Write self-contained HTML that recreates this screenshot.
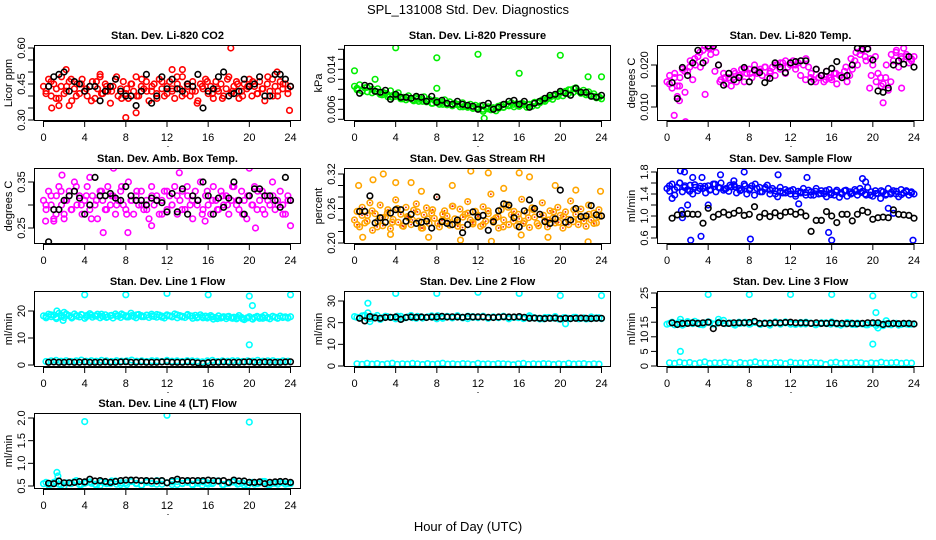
<!DOCTYPE html>
<html><head><meta charset="utf-8"><style>
html,body{margin:0;padding:0;background:#fff;}
svg{display:block;font-family:"Liberation Sans",Arial,sans-serif;}
</style></head><body>
<svg id="chart" width="936" height="540" viewBox="0 0 936 540">
<text x="468" y="14" text-anchor="middle" font-size="13">SPL_131008  Std. Dev. Diagnostics</text>
<text x="468" y="531" text-anchor="middle" font-size="13">Hour of Day (UTC)</text>
</svg>
<script>
const xTicks=[0,4,8,12,16,20,24];
const xTickLabels=['0','4','8','12','16','20','24'];
const hours48=[0.5,1,1.5,2,2.5,3,3.5,4,4.5,5,5.5,6,6.5,7,7.5,8,8.5,9,9.5,10,10.5,11,11.5,12,12.5,13,13.5,14,14.5,15,15.5,16,16.5,17,17.5,18,18.5,19,19.5,20,20.5,21,21.5,22,22.5,23,23.5,24];

// CO2
const co2Main=[0.44,0.42,0.47,0.40,0.45,0.43,0.39,0.48,0.41,0.44,0.46,0.38,0.43,0.45,0.41,0.47,0.42,0.40,0.44,0.46,0.39,0.43,0.48,0.41,0.45,0.42,0.37,0.44,0.47,0.40,0.43,0.46,0.41,0.39,0.45,0.42,0.48,0.40,0.44,0.43,0.46,0.38,0.42,0.45,0.41,0.47,0.43,0.40,0.44,0.46,0.42,0.39,0.45,0.43,0.48,0.41,0.44,0.40,0.46,0.42,0.38,0.45,0.43,0.47,0.41,0.44,0.39,0.46,0.42,0.45,0.40,0.43,0.48,0.41,0.44,0.46,0.39,0.42,0.45,0.43,0.47,0.40,0.44,0.41,0.46,0.43,0.38,0.45,0.42,0.47,0.44,0.40,0.46,0.43,0.45,0.41,0.44];
const co2B=[0.41,0.46,0.39,0.44,0.42,0.47,0.40,0.45,0.43,0.38,0.46,0.41,0.44,0.42,0.48,0.39,0.43,0.45,0.40,0.47,0.42,0.44,0.39,0.46,0.41,0.43,0.48,0.40,0.45,0.42,0.37,0.44,0.46,0.41,0.43,0.39,0.47,0.42,0.45,0.40,0.44,0.46,0.41,0.43,0.48,0.40,0.42,0.45,0.43];
const co2Black=[0.44,0.48,0.49,0.50,0.42,0.46,0.45,0.42,0.44,0.44,0.38,0.42,0.44,0.47,0.42,0.40,0.40,0.36,0.42,0.49,0.37,0.40,0.48,0.43,0.47,0.43,0.42,0.45,0.44,0.49,0.35,0.42,0.43,0.48,0.50,0.40,0.41,0.42,0.47,0.44,0.45,0.48,0.40,0.40,0.49,0.49,0.47,0.44];
const co2OutX=[0.8,1.5,2.5,8,18.2,23.9,9,5.5,12.5,2.2,13.5,22.7];
const co2OutY=[0.35,0.36,0.36,0.31,0.60,0.34,0.33,0.49,0.51,0.51,0.51,0.50];
const co2Ticks=[0.30,0.35,0.40,0.45,0.50,0.55,0.60];
const co2TickLabels=['0.30','','','0.45','','','0.60'];

// Pressure
const presMain=[0.0106,0.0099,0.0109,0.0096,0.0103,0.0095,0.0106,0.0100,0.0096,0.0101,0.0090,0.0094,0.0092,0.0085,0.0097,0.0088,0.0086,0.0093,0.0081,0.0084,0.0079,0.0087,0.0082,0.0077,0.0083,0.0076,0.0080,0.0085,0.0075,0.0080,0.0072,0.0078,0.0077,0.0070,0.0074,0.0079,0.0069,0.0075,0.0067,0.0072,0.0070,0.0065,0.0073,0.0067,0.0064,0.0070,0.0062,0.0068,0.0061,0.0067,0.0056,0.0064,0.0065,0.0059,0.0063,0.0057,0.0062,0.0068,0.0064,0.0070,0.0067,0.0073,0.0065,0.0071,0.0066,0.0072,0.0069,0.0064,0.0070,0.0066,0.0074,0.0068,0.0073,0.0079,0.0076,0.0081,0.0084,0.0080,0.0089,0.0086,0.0093,0.0087,0.0096,0.0091,0.0099,0.0094,0.0103,0.0097,0.0092,0.0098,0.0089,0.0095,0.0087,0.0091,0.0083,0.0085,0.0081];
const presB=[0.0102,0.0097,0.0104,0.0093,0.0095,0.0089,0.0090,0.0084,0.0087,0.0081,0.0083,0.0079,0.0080,0.0076,0.0078,0.0072,0.0074,0.0070,0.0071,0.0068,0.0069,0.0065,0.0066,0.0062,0.0064,0.0060,0.0061,0.0063,0.0066,0.0064,0.0068,0.0070,0.0067,0.0071,0.0069,0.0072,0.0075,0.0078,0.0083,0.0087,0.0090,0.0094,0.0099,0.0101,0.0096,0.0093,0.0089,0.0086,0.0084];
const presBlack=[0.0092,0.0108,0.0106,0.0096,0.0094,0.0098,0.0080,0.0090,0.0084,0.0084,0.0082,0.0086,0.0084,0.0076,0.0086,0.0074,0.0078,0.0072,0.0070,0.0076,0.0070,0.0068,0.0066,0.0060,0.0068,0.0072,0.0060,0.0064,0.0070,0.0076,0.0078,0.0070,0.0076,0.0064,0.0072,0.0076,0.0082,0.0088,0.0090,0.0096,0.0092,0.0088,0.0102,0.0094,0.0094,0.0086,0.0084,0.0088];
const presOutX=[0,4,8,8,12,16,20,22.7,24,12.6,2];
const presOutY=[0.0137,0.0183,0.0163,0.0102,0.0170,0.0132,0.0168,0.0125,0.0125,0.0042,0.0120];
const presTicks=[0.004,0.006,0.008,0.010,0.012,0.014,0.016,0.018];
const presTickLabels=['','0.006','','','','0.014','',''];

// Li-820 Temp
const tempMain=[0.0160,0.0175,0.0145,0.0180,0.0150,0.0170,0.0190,0.0135,0.0185,0.0210,0.0165,0.0200,0.0220,0.0195,0.0235,0.0210,0.0240,0.0225,0.0250,0.0230,0.0200,0.0165,0.0180,0.0155,0.0170,0.0150,0.0185,0.0160,0.0175,0.0190,0.0160,0.0180,0.0190,0.0170,0.0200,0.0180,0.0185,0.0175,0.0195,0.0170,0.0180,0.0195,0.0175,0.0200,0.0190,0.0205,0.0180,0.0195,0.0200,0.0210,0.0190,0.0205,0.0210,0.0200,0.0215,0.0195,0.0180,0.0165,0.0190,0.0170,0.0175,0.0160,0.0185,0.0170,0.0165,0.0180,0.0155,0.0175,0.0170,0.0185,0.0160,0.0175,0.0190,0.0210,0.0200,0.0225,0.0235,0.0220,0.0240,0.0215,0.0200,0.0220,0.0180,0.0170,0.0155,0.0170,0.0140,0.0160,0.0210,0.0230,0.0195,0.0220,0.0240,0.0220,0.0205,0.0215,0.0220];
const tempB=[0.0155,0.0170,0.0150,0.0185,0.0195,0.0215,0.0230,0.0245,0.0240,0.0185,0.0160,0.0170,0.0165,0.0180,0.0175,0.0190,0.0180,0.0185,0.0190,0.0195,0.0185,0.0200,0.0205,0.0210,0.0205,0.0200,0.0175,0.0165,0.0170,0.0160,0.0175,0.0165,0.0170,0.0180,0.0175,0.0195,0.0215,0.0230,0.0235,0.0210,0.0175,0.0160,0.0150,0.0200,0.0225,0.0235,0.0215,0.0225,0.0210];
const tempBlack=[0.0158,0.0120,0.0194,0.0175,0.0205,0.0235,0.0205,0.0245,0.0245,0.0200,0.0152,0.0180,0.0165,0.0170,0.0194,0.0160,0.0188,0.0182,0.0158,0.0168,0.0205,0.0195,0.0182,0.0205,0.0208,0.0210,0.0210,0.0160,0.0190,0.0175,0.0185,0.0192,0.0208,0.0170,0.0175,0.0200,0.0240,0.0238,0.0238,0.0212,0.0138,0.0135,0.0145,0.0200,0.0210,0.0202,0.0220,0.0195];
const tempOutX=[0.7,1.8,1.2,3.7,21,19.7,22.8,1];
const tempOutY=[0.0080,0.0065,0.0115,0.0130,0.0110,0.0145,0.0145,0.0125];
const tempTicks=[0.010,0.015,0.020];
const tempTickLabels=['0.010','','0.020'];

// Amb box temp
const ambMain=[0.31,0.29,0.33,0.30,0.27,0.32,0.34,0.30,0.28,0.31,0.33,0.29,0.35,0.30,0.32,0.28,0.31,0.34,0.29,0.32,0.30,0.27,0.33,0.31,0.29,0.34,0.30,0.32,0.28,0.31,0.33,0.30,0.29,0.35,0.31,0.28,0.32,0.30,0.33,0.29,0.31,0.27,0.34,0.30,0.32,0.28,0.31,0.33,0.29,0.32,0.30,0.34,0.28,0.31,0.33,0.29,0.32,0.30,0.27,0.33,0.31,0.35,0.29,0.32,0.30,0.28,0.34,0.31,0.29,0.33,0.30,0.32,0.28,0.31,0.34,0.30,0.29,0.33,0.31,0.27,0.32,0.30,0.34,0.29,0.31,0.33,0.28,0.32,0.30,0.35,0.29,0.31,0.33,0.30,0.28,0.32,0.31];
const ambB=[0.30,0.32,0.28,0.33,0.31,0.29,0.34,0.30,0.32,0.27,0.31,0.33,0.29,0.32,0.30,0.34,0.28,0.31,0.33,0.30,0.29,0.32,0.31,0.28,0.33,0.30,0.32,0.29,0.34,0.31,0.30,0.28,0.33,0.31,0.29,0.32,0.30,0.34,0.31,0.28,0.32,0.30,0.33,0.29,0.31,0.32,0.30,0.28,0.31];
const ambBlack=[0.22,0.29,0.29,0.31,0.32,0.33,0.315,0.28,0.30,0.36,0.32,0.32,0.325,0.315,0.31,0.34,0.32,0.31,0.31,0.30,0.315,0.31,0.305,0.285,0.325,0.285,0.335,0.28,0.32,0.31,0.35,0.32,0.28,0.315,0.295,0.315,0.35,0.31,0.28,0.32,0.335,0.335,0.32,0.32,0.31,0.295,0.36,0.31];
const ambOutX=[0.2,1,2,5.8,8.2,10.5,15.7,20.6,24,6.8,20,4.5,1.8,13.2];
const ambOutY=[0.265,0.265,0.27,0.24,0.24,0.255,0.265,0.25,0.255,0.38,0.38,0.36,0.365,0.37];
const ambTicks=[0.25,0.30,0.35];
const ambTickLabels=['0.25','','0.35'];

// Gas stream RH
const rhMain=[0.240,0.255,0.228,0.262,0.235,0.248,0.270,0.222,0.251,0.238,0.266,0.230,0.245,0.258,0.225,0.241,0.275,0.236,0.250,0.229,0.262,0.244,0.232,0.257,0.268,0.238,0.226,0.249,0.261,0.234,0.252,0.243,0.280,0.228,0.239,0.256,0.247,0.231,0.264,0.242,0.236,0.259,0.227,0.250,0.272,0.240,0.233,0.255,0.246,0.229,0.263,0.238,0.251,0.285,0.236,0.244,0.226,0.258,0.240,0.267,0.232,0.249,0.255,0.230,0.242,0.276,0.238,0.253,0.227,0.261,0.245,0.234,0.250,0.270,0.239,0.228,0.256,0.243,0.235,0.262,0.248,0.226,0.254,0.241,0.273,0.237,0.250,0.232,0.259,0.244,0.229,0.266,0.240,0.252,0.235,0.258,0.247];
const rhB=[0.232,0.248,0.238,0.256,0.228,0.244,0.252,0.236,0.260,0.230,0.246,0.240,0.254,0.226,0.242,0.258,0.234,0.250,0.238,0.264,0.229,0.245,0.252,0.236,0.248,0.232,0.256,0.240,0.246,0.228,0.262,0.238,0.250,0.234,0.244,0.258,0.230,0.248,0.240,0.254,0.236,0.246,0.232,0.258,0.242,0.238,0.250,0.234,0.246];
const rhBlack=[0.255,0.255,0.282,0.235,0.244,0.236,0.252,0.258,0.258,0.238,0.250,0.234,0.236,0.238,0.226,0.280,0.237,0.234,0.232,0.240,0.218,0.232,0.254,0.245,0.248,0.222,0.237,0.256,0.268,0.266,0.244,0.228,0.256,0.275,0.260,0.250,0.237,0.234,0.242,0.292,0.236,0.240,0.260,0.246,0.247,0.265,0.249,0.247];
const rhOutX=[0.4,1.8,2.8,4,5.5,11.3,13,16,17,0.8,3.5,7.2,10.3,13.3,18.8,22.7,16.2,9.5,23.9,6.5,14.5,19.5,21.5];
const rhOutY=[0.300,0.310,0.320,0.305,0.305,0.325,0.322,0.322,0.315,0.210,0.215,0.210,0.205,0.203,0.210,0.202,0.214,0.300,0.290,0.290,0.295,0.300,0.292];
const rhTicks=[0.20,0.22,0.24,0.26,0.28,0.30,0.32];
const rhTickLabels=['0.20','','','0.26','','','0.32'];

// Sample flow
const sfMain=[1.50,1.45,1.58,1.38,1.52,1.60,1.44,1.55,1.48,1.56,1.40,1.52,1.46,1.54,1.50,1.42,1.55,1.48,1.58,1.44,1.52,1.60,1.47,1.50,1.45,1.53,1.57,1.42,1.50,1.48,1.58,1.40,1.47,1.55,1.38,1.50,1.52,1.44,1.49,1.56,1.40,1.50,1.46,1.35,1.52,1.42,1.48,1.45,1.40,1.48,1.36,1.45,1.42,1.50,1.38,1.47,1.44,1.38,1.50,1.40,1.46,1.40,1.35,1.48,1.42,1.38,1.47,1.34,1.40,1.46,1.36,1.44,1.42,1.48,1.38,1.50,1.45,1.40,1.52,1.38,1.36,1.46,1.41,1.32,1.44,1.38,1.50,1.40,1.46,1.40,1.35,1.48,1.42,1.46,1.38,1.44,1.40];
const sfB=[1.55,1.48,1.60,1.52,1.45,1.57,1.50,1.54,1.47,1.58,1.51,1.49,1.56,1.53,1.46,1.55,1.50,1.58,1.44,1.52,1.47,1.40,1.45,1.42,1.46,1.40,1.44,1.43,1.38,1.45,1.41,1.46,1.39,1.44,1.42,1.47,1.40,1.45,1.43,1.38,1.44,1.41,1.46,1.40,1.43,1.45,1.39,1.44,1.42];
const sfBlack=[0.96,1.02,1.03,1.04,1.03,1.03,0.87,1.14,0.98,1.03,1.07,1.02,1.05,1.10,1.01,1.03,1.17,0.98,1.05,0.99,1.06,1.00,1.07,1.08,1.03,1.07,1.00,0.72,0.92,0.92,1.08,1.00,0.88,1.03,1.03,0.91,1.03,1.10,1.07,0.94,0.97,0.98,0.97,1.11,1.03,1.02,1.01,0.96];
const sfOutX=[2.3,3.3,8.1,15.7,16,23.9,1.5,1.4,2.0,1.3,1.7,5.2,7.5,10.8,13.6,19,2.5,3.4,21.5,22,12.8,4.0,0.5,6.5,19.3];
const sfOutY=[0.56,0.63,0.58,0.70,0.56,0.56,0.97,1.10,1.20,1.82,1.80,1.75,1.80,1.75,1.70,1.68,1.70,1.70,1.14,1.05,1.22,1.20,1.32,1.64,1.62];
const sfTicks=[0.6,0.8,1.0,1.2,1.4,1.6,1.8];
const sfTickLabels=['0.6','','1.0','','1.4','','1.8'];

// Line 1 flow
const l1High=[18.2,17.5,18.8,17.9,18.5,17.2,19.1,18.0,17.6,18.7,18.3,17.4,18.9,18.1,17.8,18.6,17.3,18.4,19.0,17.7,18.2,18.8,17.5,18.0,18.6,17.9,18.3,17.4,18.9,18.1,17.6,18.5,18.2,17.8,19.2,18.0,17.5,18.7,18.3,17.9,18.4,17.6,18.8,18.0,17.7,18.5,18.1,17.4,18.6,18.2,17.8,18.9,17.5,18.3,18.0,17.6,18.7,18.2,17.3,18.4,17.9,18.6,17.5,18.1,17.8,18.3,17.0,17.6,18.2,17.4,17.9,17.2,18.0,17.5,17.7,17.1,18.3,17.6,16.8,17.4,17.9,17.2,17.6,18.0,17.3,17.8,18.4,17.5,17.1,18.0,17.7,17.3,18.1,17.6,17.8,17.4,17.9];
const l1B=[18.0,18.6,17.7,18.4,18.9,17.8,18.3,18.7,17.9,18.5,18.1,18.8,17.6,18.4,18.2,18.9,17.8,18.3,18.6,17.9,18.5,18.1,18.7,17.7,18.3,18.0,18.6,17.8,18.4,18.1,17.5,18.0,17.4,17.8,17.2,17.7,17.9,17.3,17.6,17.1,17.5,17.0,17.8,17.3,17.6,18.0,17.4,17.7,17.5];
const l1Low=[1.3,1.5,1.7,1.4,1.6,1.3,1.5,1.8,1.4,1.6,1.4,1.7,1.5,1.3,1.6,1.4,1.5,1.8,1.4,1.5,1.3,1.6,1.5,1.3,1.7,1.4,1.5,1.3,1.6,1.5,1.4,1.2,1.5,1.7,1.3,1.5,1.4,1.6,1.5,1.3,1.5,1.4,1.7,1.4,1.5,1.6,1.3,1.5,1.4];
const l1Black=[1.0,1.1,1.0,1.0,1.1,1.0,1.0,1.1,1.0,1.0,1.0,1.1,1.0,1.0,1.1,1.2,1.0,1.0,1.1,1.0,1.0,1.0,1.1,1.2,1.0,1.0,1.0,1.1,1.0,0.8,0.6,0.9,1.0,1.0,1.1,1.0,1.0,1.0,1.1,1.2,1.0,1.0,1.1,1.0,1.0,1.0,1.1,1.2];
const l1OutX=[4,8,12,16,20,24,20.3,20,1.3,2,1.9];
const l1OutY=[26,26,26.5,26,25.5,26,22,7.5,20,19.5,16.5];
const l1Ticks=[0,10,20];
const l1TickLabels=['0','10','20'];

// Line 2 flow
const l2High=[22.8,22.2,23.4,21.9,22.6,21.5,23.0,22.4,21.8,22.9,22.3,23.3,22.0,22.7,22.5,23.1,21.8,22.6,22.9,22.2,23.2,22.5,21.9,22.8,22.4,23.0,22.1,22.7,22.3,22.9,21.8,22.5,22.6,22.0,23.2,22.3,21.7,22.4,22.1,22.8,21.6,22.3,21.9,22.5,22.0,21.7,22.6,22.2,21.9];
const l2B=[22.5,23.1,22.0,22.7,23.3,22.2,22.8,22.4,23.0,21.9,22.6,22.3,22.9,22.1,22.7,22.5,23.2,22.0,22.8,22.4,22.6,22.2,23.0,22.5,22.3,22.8,22.0,22.6,22.4,22.9,22.1,22.5,22.3,21.9,22.6,22.2,22.0,21.8,22.4,22.1,21.7,22.3,22.0,22.5,21.8,22.2,21.9,22.1,22.3];
const l2Low=[1.0,0.8,1.2,0.9,1.1,0.7,1.0,1.3,0.8,1.0,0.9,1.2,1.0,0.7,1.1,0.8,1.0,1.3,0.9,1.0,0.8,1.1,1.0,0.7,1.2,0.9,1.0,0.8,1.1,1.0,0.9,0.6,1.0,1.2,0.8,1.0,0.9,1.1,1.0,0.7,1.0,0.8,1.2,0.9,1.0,1.1,0.8,1.0,0.9];
const l2Black=[22.0,20.8,22.8,22.2,22.0,22.4,22.5,22.6,21.5,22.4,22.6,22.5,22.6,22.4,22.6,22.6,22.9,22.6,22.7,22.6,22.5,22.8,22.6,22.7,22.6,22.5,22.4,22.6,22.7,22.6,22.6,22.8,22.5,22.0,22.1,22.0,21.9,22.0,22.1,21.8,22.0,21.9,22.0,22.1,22.0,21.9,22.0,22.0];
const l2OutX=[4,8,12,16,20,24,1.3,1.3,20.5,1.5];
const l2OutY=[33.5,33.5,34,33.5,32.5,32.5,29,24.5,19.5,20.5];
const l2Ticks=[0,10,20,30];
const l2TickLabels=['0','10','20','30'];

// Line 3 flow
const l3High=[14.3,15.0,14.6,14.0,15.2,14.5,14.8,14.1,15.1,14.4,14.9,15.6,14.6,14.2,15.0,14.7,14.3,15.2,14.5,14.8,14.0,14.9,14.6,15.1,14.3,14.7,14.4,15.0,14.6,14.2,14.8,14.5,15.1,14.3,14.6,14.9,14.2,14.7,14.4,14.1,14.8,14.5,13.8,14.3,14.6,14.0,14.5,14.2,14.4];
const l3B=[14.6,14.1,15.0,14.4,14.8,15.3,14.2,14.7,14.9,14.3,15.1,14.5,14.8,14.0,14.6,15.0,14.4,14.9,14.2,14.7,14.5,15.1,14.3,14.8,14.6,14.2,14.9,14.4,14.7,14.1,14.5,14.8,14.3,14.6,14.0,14.4,14.7,14.2,14.5,14.1,14.6,13.9,14.3,14.5,14.1,14.6,14.2,14.4,14.3];
const l3Low=[1.1,0.9,1.3,1.0,1.2,0.8,1.1,1.4,0.9,1.1,1.0,1.3,1.1,0.8,1.2,0.9,1.1,1.4,1.0,1.1,0.9,1.2,1.1,0.8,1.3,1.0,1.1,0.9,1.2,1.1,1.0,0.5,1.1,1.3,0.9,1.1,1.0,1.2,1.1,0.8,1.1,0.9,1.3,1.0,1.1,1.2,0.9,1.1,1.0];
const l3Black=[14.8,14.2,14.6,14.6,14.8,14.6,14.8,15.0,12.8,14.8,14.6,14.6,14.8,14.8,14.8,14.9,15.3,14.6,14.6,14.7,14.8,14.8,14.9,15.0,14.8,14.8,14.8,14.6,14.8,14.6,14.6,14.8,14.6,14.6,14.5,14.6,14.5,14.6,14.8,14.8,14.8,14.2,14.5,14.6,14.5,14.6,14.6,14.4];
const l3OutX=[4,8,12,16,20,24,20.3,20,1.3,1.3,5,20.5,21.3];
const l3OutY=[24.5,24.5,24.5,24.5,24,24.3,18.3,7.5,5,16,16,13,15.5];
const l3Ticks=[0,5,10,15,20,25];
const l3TickLabels=['0','5','10','15','','25'];

// Line 4 flow
const l4High=[0.55,0.52,0.58,0.54,0.50,0.57,0.60,0.53,0.56,0.59,0.54,0.51,0.58,0.55,0.61,0.53,0.57,0.60,0.55,0.52,0.59,0.56,0.54,0.61,0.57,0.53,0.60,0.55,0.58,0.52,0.56,0.59,0.54,0.57,0.61,0.53,0.56,0.59,0.55,0.52,0.58,0.54,0.57,0.60,0.53,0.56,0.58,0.54,0.55];
const l4B=[0.58,0.54,0.60,0.52,0.57,0.55,0.62,0.53,0.58,0.56,0.51,0.59,0.55,0.61,0.54,0.57,0.53,0.60,0.56,0.52,0.58,0.55,0.62,0.54,0.57,0.59,0.53,0.56,0.60,0.54,0.58,0.52,0.57,0.55,0.61,0.53,0.56,0.59,0.54,0.57,0.52,0.58,0.55,0.60,0.53,0.56,0.54,0.57,0.55];
const l4Black=[0.56,0.55,0.61,0.57,0.57,0.58,0.60,0.59,0.65,0.61,0.62,0.60,0.58,0.60,0.62,0.63,0.63,0.63,0.62,0.62,0.61,0.61,0.62,0.57,0.62,0.65,0.62,0.62,0.62,0.62,0.62,0.63,0.62,0.61,0.62,0.58,0.63,0.61,0.61,0.58,0.58,0.59,0.55,0.58,0.59,0.60,0.60,0.58];
const l4OutX=[4,12,20,1.3,1.4];
const l4OutY=[1.92,2.06,1.91,0.80,0.72];
const l4Ticks=[0.5,1.0,1.5,2.0];
const l4TickLabels=['0.5','1.0','1.5','2.0'];

const NS='http://www.w3.org/2000/svg';
const svg=document.getElementById('chart');
function mk(tag,attrs,parent){const e=document.createElementNS(NS,tag);for(const k in attrs)e.setAttribute(k,attrs[k]);(parent||svg).appendChild(e);return e;}

const cols=[{bx0:34,bx1:301,p0:43.5,p24:290.5},{bx0:344,bx1:611,p0:354.5,p24:601.5},{bx0:657,bx1:924,p0:667,p24:914}];
const rows=[{t:45,b:121},{t:168,b:244},{t:291,b:367},{t:413,b:489}];

const panels=[
 {id:'co2',title:'Stan. Dev. Li-820 CO2',ylab:'Licor ppm',c:0,r:0,v1:0.30,y1:120,v2:0.60,y2:48,col:'#ff0000',main:[co2Main,co2B],black:co2Black,ox:co2OutX,oy:co2OutY,ticks:co2Ticks,tl:co2TickLabels},
 {id:'pressure',title:'Stan. Dev. Li-820 Pressure',ylab:'kPa',c:1,r:0,v1:0.006,y1:109.3,v2:0.014,y2:69.3,col:'#00ee00',main:[presMain,presB],black:presBlack,ox:presOutX,oy:presOutY,ticks:presTicks,tl:presTickLabels},
 {id:'li820-temp',title:'Stan. Dev. Li-820 Temp.',ylab:'degrees C',c:2,r:0,v1:0.010,y1:107,v2:0.020,y2:65,col:'#ff00ff',main:[tempMain,tempB],black:tempBlack,ox:tempOutX,oy:tempOutY,ticks:tempTicks,tl:tempTickLabels},
 {id:'amb-box-temp',title:'Stan. Dev. Amb. Box Temp.',ylab:'degrees C',c:0,r:1,v1:0.25,y1:228,v2:0.35,y2:182,col:'#ff00ff',main:[ambMain,ambB],black:ambBlack,ox:ambOutX,oy:ambOutY,ticks:ambTicks,tl:ambTickLabels},
 {id:'gas-stream-rh',title:'Stan. Dev. Gas Stream RH',ylab:'percent',c:1,r:1,v1:0.20,y1:243,v2:0.32,y2:174,col:'#ffa500',dot:'#ee2200',main:[rhMain,rhB],black:rhBlack,ox:rhOutX,oy:rhOutY,ticks:rhTicks,tl:rhTickLabels},
 {id:'sample-flow',title:'Stan. Dev. Sample Flow',ylab:'ml/min',c:2,r:1,v1:0.6,y1:238,v2:1.8,y2:172,col:'#0000ff',main:[sfMain,sfB],black:sfBlack,ox:sfOutX,oy:sfOutY,ticks:sfTicks,tl:sfTickLabels},
 {id:'line1-flow',title:'Stan. Dev. Line 1 Flow',ylab:'ml/min',c:0,r:2,v1:0,y1:365,v2:20,y2:311,col:'#00ffff',main:[l1High,l1B,l1Low],black:l1Black,ox:l1OutX,oy:l1OutY,ticks:l1Ticks,tl:l1TickLabels},
 {id:'line2-flow',title:'Stan. Dev. Line 2 Flow',ylab:'ml/min',c:1,r:2,v1:0,y1:366,v2:30,y2:301,col:'#00ffff',main:[l2High,l2B,l2Low],black:l2Black,ox:l2OutX,oy:l2OutY,ticks:l2Ticks,tl:l2TickLabels},
 {id:'line3-flow',title:'Stan. Dev. Line 3 Flow',ylab:'ml/min',c:2,r:2,v1:0,y1:366,v2:25,y2:293,col:'#00ffff',main:[l3High,l3B,l3Low],black:l3Black,ox:l3OutX,oy:l3OutY,ticks:l3Ticks,tl:l3TickLabels},
 {id:'line4-flow',title:'Stan. Dev. Line 4 (LT) Flow',ylab:'ml/min',c:0,r:3,v1:0.5,y1:486,v2:2.0,y2:418,col:'#00ffff',main:[l4High,l4B],black:l4Black,ox:l4OutX,oy:l4OutY,ticks:l4Ticks,tl:l4TickLabels}
];

function circ(g,x,y,color,name){
  const c=mk('circle',{cx:x.toFixed(1),cy:y.toFixed(1),r:2.8,fill:'none',stroke:color,'stroke-width':1.6},g);
  
  
  return c;
}

panels.forEach(p=>{
  const C=cols[p.c],R=rows[p.r];
  const g=mk('g',{});
  
  
  const xs=h=>C.p0+(C.p24-C.p0)*h/24;
  const ys=v=>p.y1+(v-p.v1)*(p.y2-p.y1)/(p.v2-p.v1);
  const t=mk('text',{x:(C.bx0+C.bx1)/2,y:R.t-6,'text-anchor':'middle','font-size':11,'font-weight':'bold'},g);
  t.textContent=p.title;
  
  
  const cid='clip-'+p.id;
  const cp=mk('clipPath',{id:cid},g);
  mk('rect',{x:C.bx0,y:R.t,width:C.bx1-C.bx0,height:R.b-R.t},cp);
  const pts=mk('g',{'clip-path':'url(#'+cid+')'},g);
  
  
  p.main.forEach((arr,k)=>{
    arr.forEach((v,i)=>{
      const h=k===0?24*i/(arr.length-1):24*(i+0.5)/arr.length;
      circ(pts,xs(h),ys(v),p.col,p.id+'-point');
      if(p.dot){const d=mk('circle',{cx:xs(h),cy:ys(v),r:0.9,fill:p.dot},pts);
        
        }
    });
  });
  p.ox.forEach((h,i)=>{circ(pts,xs(h),ys(p.oy[i]),p.col,p.id+'-outlier');});
  const n=Math.min(p.black.length,hours48.length);
  for(let i=0;i<n;i++){circ(pts,xs(hours48[i]),ys(p.black[i]),'#000',p.id+'-hourly-point');}
  const box=mk('rect',{x:C.bx0+0.5,y:R.t+0.5,width:C.bx1-C.bx0-1,height:R.b-R.t-1,fill:'none',stroke:'#000','stroke-width':1},g);
  
  
  const xa=mk('g',{},g);
  
  
  mk('line',{x1:xs(xTicks[0]),x2:xs(xTicks[xTicks.length-1]),y1:R.b+0.5,y2:R.b+0.5,stroke:'#000'},xa);
  xTicks.forEach((h,i)=>{
    const x=xs(h);
    mk('line',{x1:x,x2:x,y1:R.b,y2:R.b+6,stroke:'#000'},xa);
    const tx=mk('text',{x:x,y:R.b+20,'text-anchor':'middle','font-size':11},xa);
    tx.textContent=xTickLabels[i];
    
    
  });
  const ya=mk('g',{},g);
  
  
  mk('line',{x1:C.bx0-0.5,x2:C.bx0-0.5,y1:ys(p.ticks[0]),y2:ys(p.ticks[p.ticks.length-1]),stroke:'#000'},ya);
  p.ticks.forEach((v,i)=>{
    const y=ys(v);
    mk('line',{x1:C.bx0-6,x2:C.bx0,y1:y,y2:y,stroke:'#000'},ya);
    if(p.tl[i]){
      const bx=C.bx0-9;
      const tx=mk('text',{x:bx,y:y,'text-anchor':'middle','font-size':11,transform:'rotate(-90 '+bx+' '+y.toFixed(1)+')'},ya);
      tx.textContent=p.tl[i];
      
      
    }
  });
  const lx=C.bx0-22, ly=(R.t+R.b)/2;
  const yl=mk('text',{x:lx,y:ly,'text-anchor':'middle','font-size':11,transform:'rotate(-90 '+lx+' '+ly+')'},g);
  yl.textContent=p.ylab;
  
  
  const dot=mk('rect',{x:(C.bx0+C.bx1)/2,y:R.b+25,width:1,height:1,fill:'#000'},g);
  
  
});
</script>
</body></html>
